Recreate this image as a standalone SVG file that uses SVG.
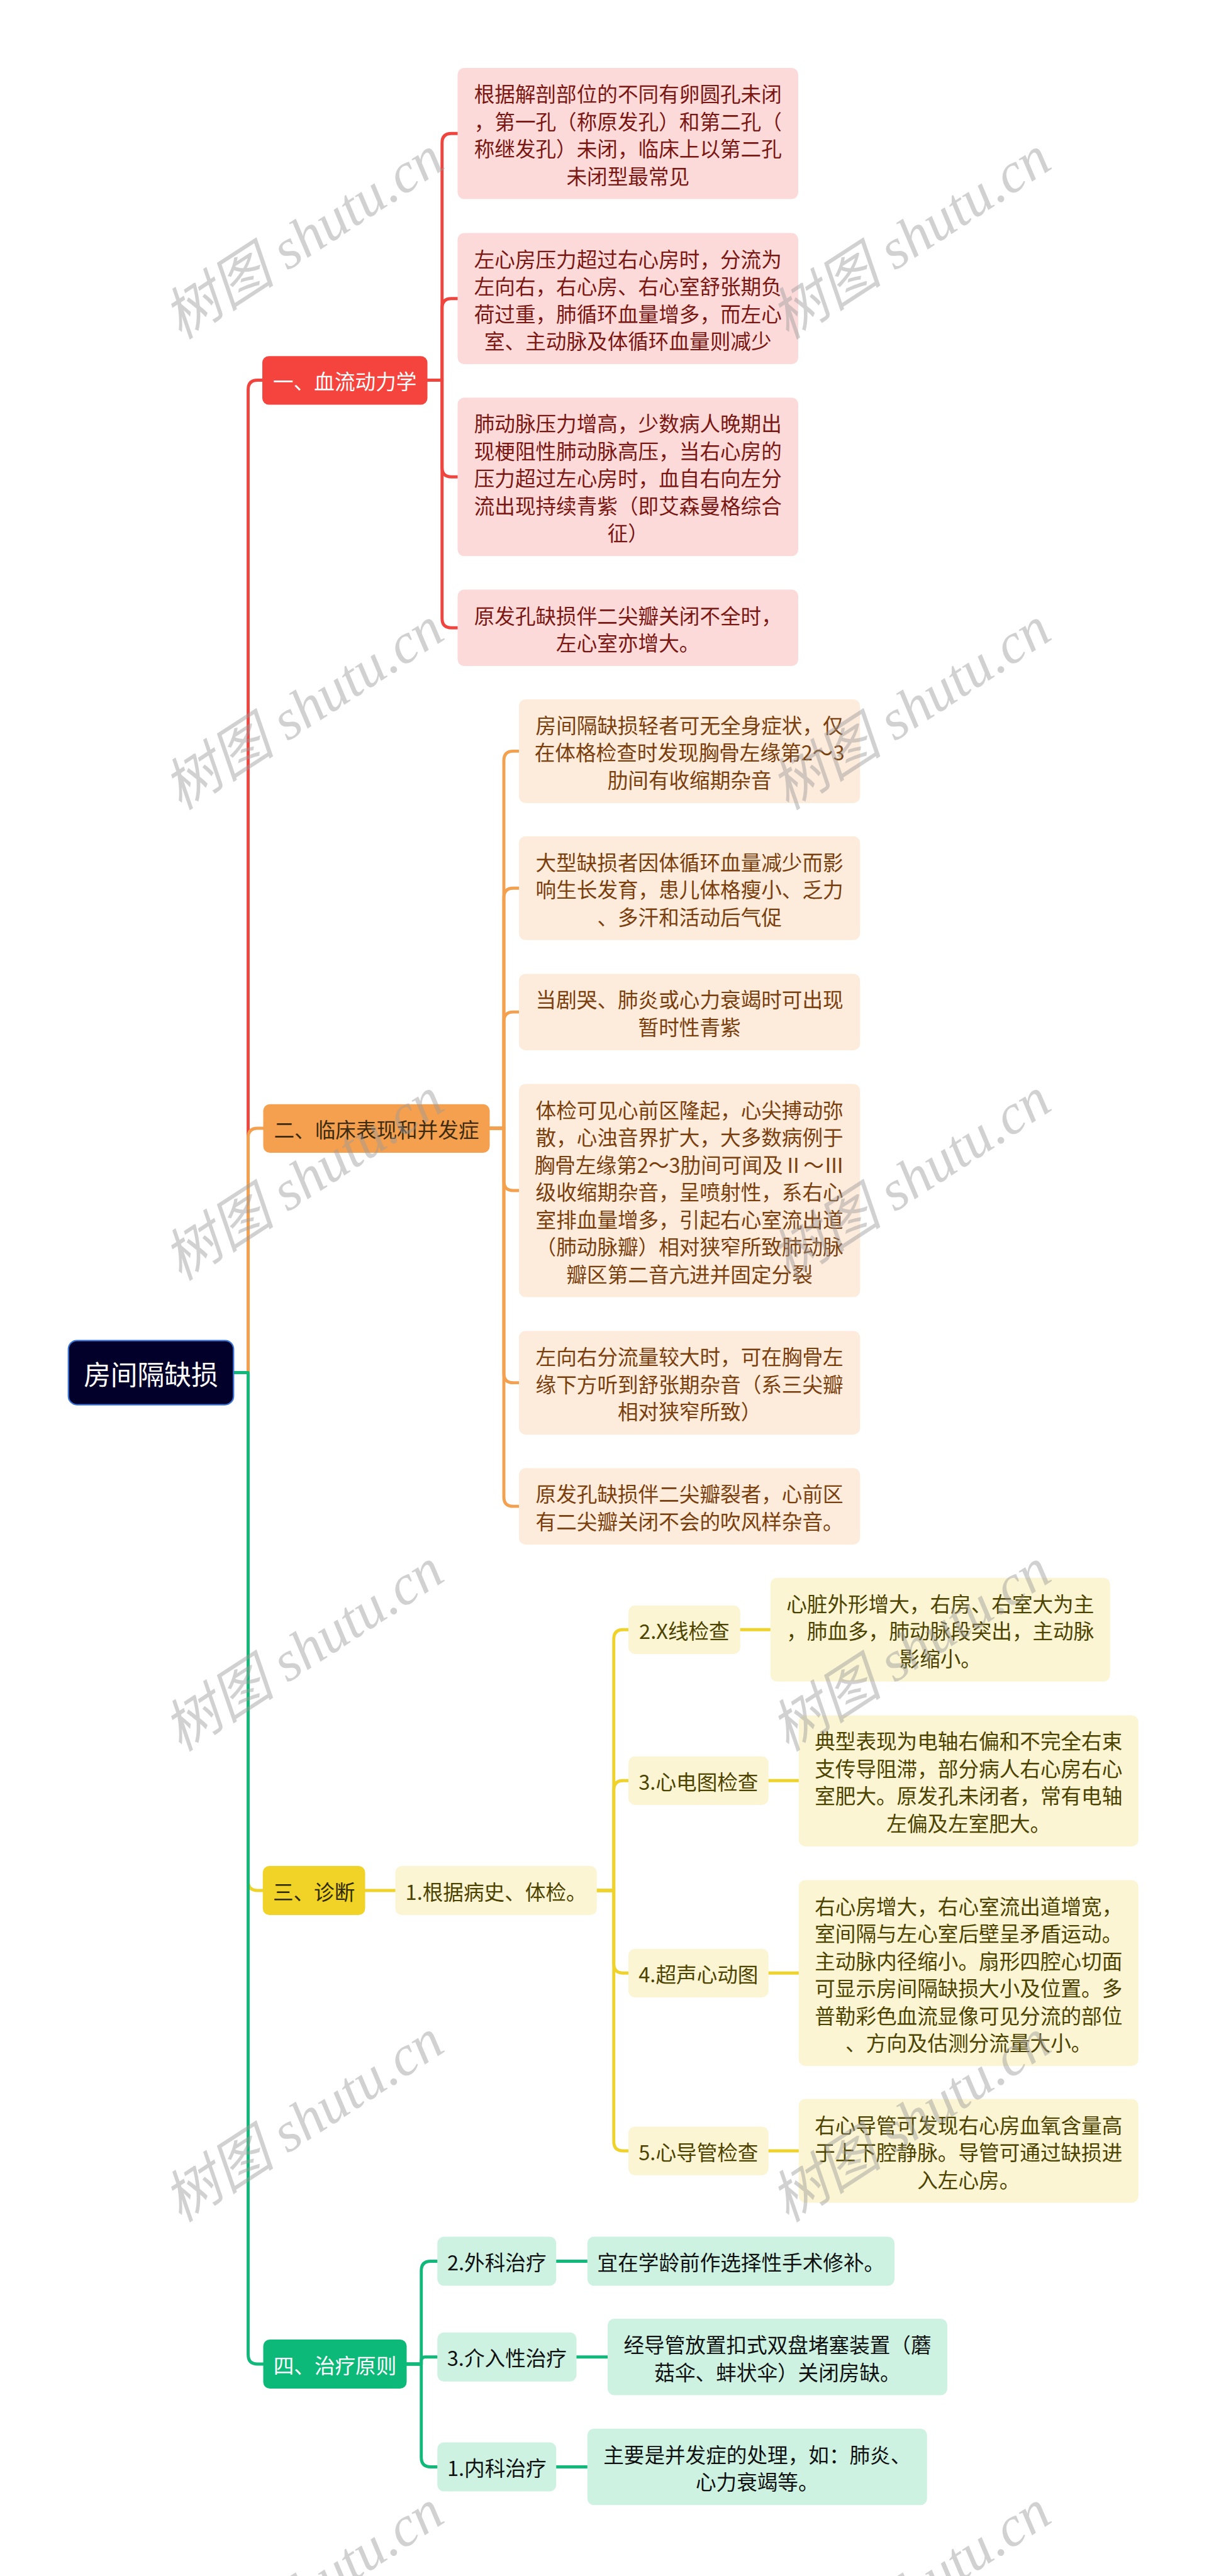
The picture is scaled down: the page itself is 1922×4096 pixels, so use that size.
<svg xmlns="http://www.w3.org/2000/svg" width="1922" height="4096" viewBox="0 0 1922 4096">
<style>
text{font-family:"Noto Sans CJK SC","Noto Sans",sans-serif;font-size:43.5px;text-anchor:middle;dominant-baseline:central}
.c{fill:none;stroke-width:6.5;stroke-linejoin:round;stroke-linecap:round}
.cr{stroke:#f0443f}.co{stroke:#f3a14f}.cy{stroke:#efd22a}.cg{stroke:#10b97a}
.br{fill:#f5443e}.bo{fill:#f4a04e}.by{fill:#f1d327}.bg{fill:#0db979}
.lr{fill:#fddada}.lo{fill:#fdebdc}.ly{fill:#fcf5d3}.lg{fill:#cdf2e2}
.tr{fill:#7a1712}.to{fill:#7a3f0c}.ty{fill:#4d4300}.tg{fill:#111111}.tw{fill:#ffffff}
.wm text{font-family:"Liberation Serif","Noto Sans CJK SC",serif;font-style:italic;font-size:120px;fill:#9a9a9a;opacity:0.45}
</style>
<rect x="0" y="0" width="1922" height="4096" fill="#ffffff"/>
<g transform="scale(0.75)">
<g id="connectors">
<path class="c cr" d="M495,2910 H526 V826 Q526,806 546,806 H556"/>
<path class="c co" d="M495,2910 H526 V2412 Q526,2392 546,2392 H558"/>
<path class="c cy" d="M495,2910 H526 V3988 Q526,4008 546,4008 H557"/>
<path class="c cg" d="M495,2910 H526 V4992 Q526,5012 546,5012 H558"/>
<path class="c cr" d="M906,806 H937 V303 Q937,283 957,283 H970"/>
<path class="c cr" d="M906,806 H937 V653 Q937,633 957,633 H970"/>
<path class="c cr" d="M906,806 H937 V991 Q937,1011 957,1011 H970"/>
<path class="c cr" d="M906,806 H937 V1311 Q937,1331 957,1331 H970"/>
<path class="c co" d="M1038,2392 H1068 V1612.5 Q1068,1592.5 1088,1592.5 H1100"/>
<path class="c co" d="M1038,2392 H1068 V1903 Q1068,1883 1088,1883 H1100"/>
<path class="c co" d="M1038,2392 H1068 V2165.5 Q1068,2145.5 1088,2145.5 H1100"/>
<path class="c co" d="M1038,2392 H1068 V2504 Q1068,2524 1088,2524 H1100"/>
<path class="c co" d="M1038,2392 H1068 V2911.5 Q1068,2931.5 1088,2931.5 H1100"/>
<path class="c co" d="M1038,2392 H1068 V3173.5 Q1068,3193.5 1088,3193.5 H1100"/>
<path class="c cy" d="M774,4008 H838"/>
<path class="c cy" d="M1265,4008 H1301 V3475 Q1301,3455 1321,3455 H1332"/>
<path class="c cy" d="M1265,4008 H1301 V3795 Q1301,3775 1321,3775 H1332"/>
<path class="c cy" d="M1265,4008 H1301 V4163 Q1301,4183 1321,4183 H1332"/>
<path class="c cy" d="M1265,4008 H1301 V4540 Q1301,4560 1321,4560 H1332"/>
<path class="c cy" d="M1569,3455 H1633"/>
<path class="c cy" d="M1629,3775 H1693"/>
<path class="c cy" d="M1629,4183 H1693"/>
<path class="c cy" d="M1629,4560 H1693"/>
<path class="c cg" d="M862,5012 H893 V4814 Q893,4794 913,4794 H927"/>
<path class="c cg" d="M862,5012 H893 V5005 Q893,4997 901,4997 H927"/>
<path class="c cg" d="M862,5012 H893 V5210 Q893,5230 913,5230 H927"/>
<path class="c cg" d="M1179,4794 H1245"/>
<path class="c cg" d="M1222,4997 H1288"/>
<path class="c cg" d="M1179,5230 H1245"/>
</g>

<g id="root">
<rect x="145" y="2842" width="350" height="136" rx="18" fill="#02002a" stroke="#3b74d4" stroke-width="3"/>
<text x="320" y="2910" class="tw" style="font-size:57px">房间隔缺损</text>
</g>

<g id="b1">
<rect class="br" x="556" y="755" width="350" height="103" rx="14"/>
<text class="tw" x="731" y="806.5">一、血流动力学</text>
</g>
<g id="b1l1">
<rect class="lr" x="970" y="144" width="722" height="278" rx="14"/>
<text class="tr"><tspan x="1331" y="196">根据解剖部位的不同有卵圆孔未闭</tspan><tspan x="1331" y="254">，第一孔（称原发孔）和第二孔（</tspan><tspan x="1331" y="312">称继发孔）未闭，临床上以第二孔</tspan><tspan x="1331" y="370">未闭型最常见</tspan></text>
</g>
<g id="b1l2">
<rect class="lr" x="970" y="494" width="722" height="278" rx="14"/>
<text class="tr"><tspan x="1331" y="546">左心房压力超过右心房时，分流为</tspan><tspan x="1331" y="604">左向右，右心房、右心室舒张期负</tspan><tspan x="1331" y="662">荷过重，肺循环血量增多，而左心</tspan><tspan x="1331" y="720">室、主动脉及体循环血量则减少</tspan></text>
</g>
<g id="b1l3">
<rect class="lr" x="970" y="843" width="722" height="336" rx="14"/>
<text class="tr"><tspan x="1331" y="895">肺动脉压力增高，少数病人晚期出</tspan><tspan x="1331" y="953">现梗阻性肺动脉高压，当右心房的</tspan><tspan x="1331" y="1011">压力超过左心房时，血自右向左分</tspan><tspan x="1331" y="1069">流出现持续青紫（即艾森曼格综合</tspan><tspan x="1331" y="1127">征）</tspan></text>
</g>
<g id="b1l4">
<rect class="lr" x="970" y="1250" width="722" height="162" rx="14"/>
<text class="tr"><tspan x="1331" y="1302">原发孔缺损伴二尖瓣关闭不全时，</tspan><tspan x="1331" y="1360">左心室亦增大。</tspan></text>
</g>

<g id="b2">
<rect class="bo" x="558" y="2341" width="480" height="103" rx="14"/>
<text x="798" y="2392.5" fill="#3d2b12">二、临床表现和并发症</text>
</g>
<g id="b2l1">
<rect class="lo" x="1100" y="1482.5" width="723" height="220" rx="14"/>
<text class="to"><tspan x="1461.5" y="1534.5">房间隔缺损轻者可无全身症状，仅</tspan><tspan x="1461.5" y="1592.5">在体格检查时发现胸骨左缘第2～3</tspan><tspan x="1461.5" y="1650.5">肋间有收缩期杂音</tspan></text>
</g>
<g id="b2l2">
<rect class="lo" x="1100" y="1773" width="723" height="220" rx="14"/>
<text class="to"><tspan x="1461.5" y="1825">大型缺损者因体循环血量减少而影</tspan><tspan x="1461.5" y="1883">响生长发育，患儿体格瘦小、乏力</tspan><tspan x="1461.5" y="1941">、多汗和活动后气促</tspan></text>
</g>
<g id="b2l3">
<rect class="lo" x="1100" y="2064.5" width="723" height="162" rx="14"/>
<text class="to"><tspan x="1461.5" y="2116.5">当剧哭、肺炎或心力衰竭时可出现</tspan><tspan x="1461.5" y="2174.5">暂时性青紫</tspan></text>
</g>
<g id="b2l4">
<rect class="lo" x="1100" y="2298" width="723" height="452" rx="14"/>
<text class="to"><tspan x="1461.5" y="2350">体检可见心前区隆起，心尖搏动弥</tspan><tspan x="1461.5" y="2408">散，心浊音界扩大，大多数病例于</tspan><tspan x="1461.5" y="2466">胸骨左缘第2～3肋间可闻及Ⅱ～Ⅲ</tspan><tspan x="1461.5" y="2524">级收缩期杂音，呈喷射性，系右心</tspan><tspan x="1461.5" y="2582">室排血量增多，引起右心室流出道</tspan><tspan x="1461.5" y="2640">（肺动脉瓣）相对狭窄所致肺动脉</tspan><tspan x="1461.5" y="2698">瓣区第二音亢进并固定分裂</tspan></text>
</g>
<g id="b2l5">
<rect class="lo" x="1100" y="2821.5" width="723" height="220" rx="14"/>
<text class="to"><tspan x="1461.5" y="2873.5">左向右分流量较大时，可在胸骨左</tspan><tspan x="1461.5" y="2931.5">缘下方听到舒张期杂音（系三尖瓣</tspan><tspan x="1461.5" y="2989.5">相对狭窄所致）</tspan></text>
</g>
<g id="b2l6">
<rect class="lo" x="1100" y="3112.5" width="723" height="162" rx="14"/>
<text class="to"><tspan x="1461.5" y="3164.5">原发孔缺损伴二尖瓣裂者，心前区</tspan><tspan x="1461.5" y="3222.5">有二尖瓣关闭不会的吹风样杂音。</tspan></text>
</g>

<g id="b3">
<rect class="by" x="557" y="3956" width="217" height="104" rx="14"/>
<text x="665.5" y="4008" fill="#2e2a00">三、诊断</text>
</g>
<g id="b3s1">
<rect class="ly" x="838" y="3956" width="427" height="104" rx="14"/>
<text class="ty" x="1051.5" y="4008">1.根据病史、体检。</text>
</g>
<g id="b3x">
<rect class="ly" x="1332" y="3403.5" width="237" height="103" rx="14"/>
<text class="ty" x="1450.5" y="3455">2.X线检查</text>
</g>
<g id="b3xl">
<rect class="ly" x="1633" y="3345" width="720" height="220" rx="14"/>
<text class="ty"><tspan x="1993" y="3397">心脏外形增大，右房、右室大为主</tspan><tspan x="1993" y="3455">，肺血多，肺动脉段突出，主动脉</tspan><tspan x="1993" y="3513">影缩小。</tspan></text>
</g>
<g id="b3e">
<rect class="ly" x="1332" y="3723.5" width="297" height="103" rx="14"/>
<text class="ty" x="1480.5" y="3775">3.心电图检查</text>
</g>
<g id="b3el">
<rect class="ly" x="1693" y="3636.5" width="720" height="278" rx="14"/>
<text class="ty"><tspan x="2053" y="3688">典型表现为电轴右偏和不完全右束</tspan><tspan x="2053" y="3746">支传导阻滞，部分病人右心房右心</tspan><tspan x="2053" y="3804">室肥大。原发孔未闭者，常有电轴</tspan><tspan x="2053" y="3862">左偏及左室肥大。</tspan></text>
</g>
<g id="b3u">
<rect class="ly" x="1332" y="4131.5" width="297" height="103" rx="14"/>
<text class="ty" x="1480.5" y="4183">4.超声心动图</text>
</g>
<g id="b3ul">
<rect class="ly" x="1693" y="3986" width="720" height="394" rx="14"/>
<text class="ty"><tspan x="2053" y="4038">右心房增大，右心室流出道增宽，</tspan><tspan x="2053" y="4096">室间隔与左心室后壁呈矛盾运动。</tspan><tspan x="2053" y="4154">主动脉内径缩小。扇形四腔心切面</tspan><tspan x="2053" y="4212">可显示房间隔缺损大小及位置。多</tspan><tspan x="2053" y="4270">普勒彩色血流显像可见分流的部位</tspan><tspan x="2053" y="4328">、方向及估测分流量大小。</tspan></text>
</g>
<g id="b3c">
<rect class="ly" x="1332" y="4508.5" width="297" height="103" rx="14"/>
<text class="ty" x="1480.5" y="4560">5.心导管检查</text>
</g>
<g id="b3cl">
<rect class="ly" x="1693" y="4450" width="720" height="220" rx="14"/>
<text class="ty"><tspan x="2053" y="4502">右心导管可发现右心房血氧含量高</tspan><tspan x="2053" y="4560">于上下腔静脉。导管可通过缺损进</tspan><tspan x="2053" y="4618">入左心房。</tspan></text>
</g>

<g id="b4">
<rect class="bg" x="558" y="4960" width="304" height="104" rx="14"/>
<text class="tw" x="710" y="5012">四、治疗原则</text>
</g>
<g id="b4s">
<rect class="lg" x="927" y="4742" width="252" height="104" rx="14"/>
<text class="tg" x="1053" y="4794">2.外科治疗</text>
</g>
<g id="b4sl">
<rect class="lg" x="1245" y="4742" width="651" height="104" rx="14"/>
<text class="tg" x="1570.5" y="4794">宜在学龄前作选择性手术修补。</text>
</g>
<g id="b4i">
<rect class="lg" x="927" y="4945" width="295" height="104" rx="14"/>
<text class="tg" x="1074.5" y="4997">3.介入性治疗</text>
</g>
<g id="b4il">
<rect class="lg" x="1288" y="4916" width="720" height="162" rx="14"/>
<text class="tg"><tspan x="1648" y="4968">经导管放置扣式双盘堵塞装置（蘑</tspan><tspan x="1648" y="5026">菇伞、蚌状伞）关闭房缺。</tspan></text>
</g>
<g id="b4n">
<rect class="lg" x="927" y="5178" width="252" height="104" rx="14"/>
<text class="tg" x="1053" y="5230">1.内科治疗</text>
</g>
<g id="b4nl">
<rect class="lg" x="1245" y="5149" width="720" height="162" rx="14"/>
<text class="tg"><tspan x="1605" y="5201">主要是并发症的处理，如：肺炎、</tspan><tspan x="1605" y="5259">心力衰竭等。</tspan></text>
</g>

<g class="wm">
<text x="643" y="504" transform="rotate(-33 643 504)">树图 shutu.cn</text>
<text x="1930" y="504" transform="rotate(-33 1930 504)">树图 shutu.cn</text>
<text x="643" y="1502" transform="rotate(-33 643 1502)">树图 shutu.cn</text>
<text x="1930" y="1502" transform="rotate(-33 1930 1502)">树图 shutu.cn</text>
<text x="643" y="2500" transform="rotate(-33 643 2500)">树图 shutu.cn</text>
<text x="1930" y="2500" transform="rotate(-33 1930 2500)">树图 shutu.cn</text>
<text x="643" y="3498" transform="rotate(-33 643 3498)">树图 shutu.cn</text>
<text x="1930" y="3498" transform="rotate(-33 1930 3498)">树图 shutu.cn</text>
<text x="643" y="4496" transform="rotate(-33 643 4496)">树图 shutu.cn</text>
<text x="1930" y="4496" transform="rotate(-33 1930 4496)">树图 shutu.cn</text>
<text x="643" y="5494" transform="rotate(-33 643 5494)">树图 shutu.cn</text>
<text x="1930" y="5494" transform="rotate(-33 1930 5494)">树图 shutu.cn</text>
</g>
</g>
</svg>
